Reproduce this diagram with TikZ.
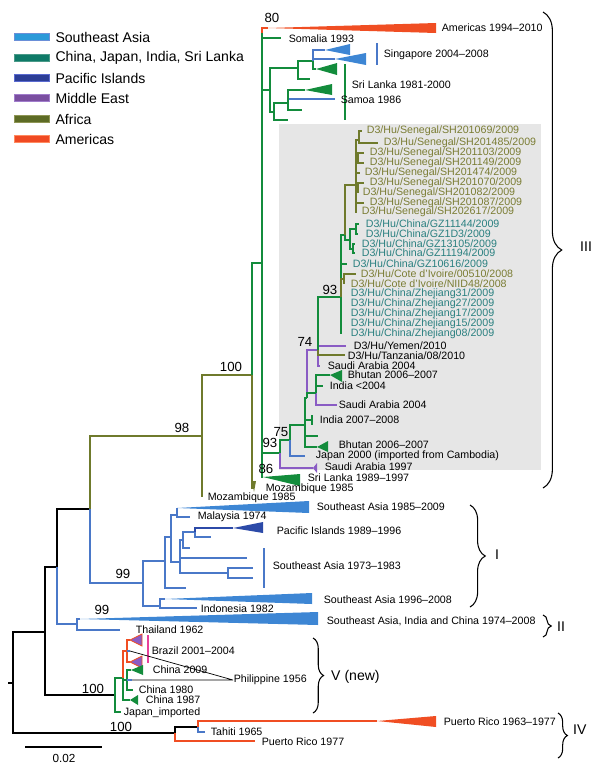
\documentclass[tikz,border=0pt]{standalone}
\usepackage{fontspec}
\setmainfont{Liberation Sans}
\usetikzlibrary{positioning,decorations.pathreplacing}
\definecolor{csea}{HTML}{4A78C8}
\definecolor{cseaw}{HTML}{3D86D4}
\definecolor{cgreen}{HTML}{138C3C}
\definecolor{cteal}{HTML}{2A8080}
\definecolor{cpac}{HTML}{2C4AA8}
\definecolor{cmid}{HTML}{8A5CC4}
\definecolor{cafr}{HTML}{6F7A2C}
\definecolor{cafrt}{HTML}{7B7D34}
\definecolor{camer}{HTML}{F04E23}
\definecolor{cmag}{HTML}{E8409A}
\definecolor{cbox}{HTML}{E6E6E6}
\definecolor{ksea}{HTML}{2B9AD9}
\definecolor{kseab}{HTML}{6A8FD8}
\definecolor{kchn}{HTML}{0F7A68}
\definecolor{kchnb}{HTML}{4A9A88}
\definecolor{kpac}{HTML}{2C3E96}
\definecolor{kpacb}{HTML}{5A6AD0}
\definecolor{kmid}{HTML}{7A4FA0}
\definecolor{kmidb}{HTML}{A07CCB}
\definecolor{kafr}{HTML}{5D6B25}
\definecolor{kafrb}{HTML}{8F9655}
\definecolor{kame}{HTML}{F04A23}
\definecolor{kameb}{HTML}{FF8A60}

\begin{document}
\begin{tikzpicture}[x=0.03cm, y=-0.03cm,
  ln/.style={line width=1pt},
  brBlk/.style={ln, black}, brSea/.style={ln, csea}, brGrn/.style={ln, cgreen},
  brPac/.style={ln, cpac}, brMid/.style={ln, cmid}, brAfr/.style={ln, cafr},
  brAme/.style={ln, camer},
  lab/.style={anchor=west, inner sep=0.5pt, font=\fontsize{9.1}{10}\selectfont},
  labo/.style={lab, text=cafrt}, labt/.style={lab, text=cteal},
  bs/.style={inner sep=0pt, font=\fontsize{11.3}{12}\selectfont},
  leg/.style={anchor=west, inner sep=1pt, font=\fontsize{12}{14}\selectfont},
  sw/.style={line width=0.8pt, minimum width=1.06cm, minimum height=0.19cm, inner sep=0pt},
  cl/.style={anchor=west, inner sep=0pt, font=\fontsize{12}{14}\selectfont},
  clbrace/.style={decorate, decoration={brace, amplitude=#1}, line width=0.9pt},
]
  \useasboundingbox (0,0) rectangle (600,772);
  \fill[cbox] (279,124) rectangle (541,470);

  \node[sw, fill=ksea, draw=kseab] (kSea) at (32,37) {};
  \node[sw, fill=kchn, draw=kchnb] (kChn) at (32,58) {};
  \node[sw, fill=kpac, draw=kpacb] (kPac) at (32,78) {};
  \node[sw, fill=kmid, draw=kmidb] (kMid) at (32,98) {};
  \node[sw, fill=kafr, draw=kafrb] (kAfr) at (32,119) {};
  \node[sw, fill=kame, draw=kameb] (kAme) at (32,139) {};
  \node[leg, right=0.12cm of kSea] (tSea) {Southeast Asia};
  \node[leg, right=0.12cm of kChn] (tChn) {China, Japan, India, Sri Lanka};
  \node[leg, right=0.12cm of kPac] (tPac) {Pacific Islands};
  \node[leg, right=0.12cm of kMid] (tMid) {Middle East};
  \node[leg, right=0.12cm of kAfr] (tAfr) {Africa};
  \node[leg, right=0.12cm of kAme] (tAme) {Americas};

  \coordinate (rs) at (8,683);
  \coordinate (r) at (13,683);
  \coordinate (n1) at (45,632);
  \coordinate (nIV) at (175,733);
  \coordinate (n2) at (57,567);
  \coordinate (nV) at (115,695);
  \coordinate (n3) at (90,509);
  \coordinate (nII) at (77,624);
  \coordinate (n98) at (202,436);
  \coordinate (n99) at (143,583);
  \coordinate (n100) at (252,375);
  \coordinate (moz2) at (202,497);
  \coordinate (nIII) at (262,263);
  \coordinate (moz1) at (254,488);
  \coordinate (n80) at (262,33);
  \coordinate (am) at (268,28);
  \coordinate (som) at (281,38);
  \coordinate (nA) at (270,90);
  \coordinate (nB) at (298,68);
  \coordinate (nC) at (274,112);
  \coordinate (nD) at (313,61);
  \coordinate (sl1) at (310,79);
  \coordinate (sg1) at (325,50);
  \coordinate (sg2) at (335,59);
  \coordinate (sl2) at (316,69);
  \coordinate (nE) at (288,103);
  \coordinate (t1) at (288,120);
  \coordinate (sl3) at (305,90);
  \coordinate (sam) at (335,99);
  \coordinate (t2) at (302,110);
  \coordinate (n93L) at (280,453);
  \coordinate (sl89) at (263,477);
  \coordinate (n75) at (290,440);
  \coordinate (sa97) at (313,468);
  \coordinate (g1) at (305,425);
  \coordinate (jp) at (305,456);
  \coordinate (p0) at (307,398);
  \coordinate (in78) at (312,420);
  \coordinate (t3) at (318,436);
  \coordinate (bh2) at (317,447);
  \coordinate (n74) at (318,350);
  \coordinate (q) at (316,393);
  \coordinate (bh1) at (330,375);
  \coordinate (in04) at (323,386);
  \coordinate (sa04b) at (337,405);
  \coordinate (n93U) at (341,297);
  \coordinate (ye) at (346,346);
  \coordinate (tz) at (345,355);
  \coordinate (sa04a) at (320,366);
  \coordinate (sg) at (345,235);
  \coordinate (sen) at (356,185);
  \coordinate (gz) at (350,240);
  \coordinate (gz6) at (347,264);
  \coordinate (ci) at (344,279);
  \coordinate (ci1) at (356,274);
  \coordinate (ci2) at (344,284);
  \coordinate (zj1) at (341,294);
  \coordinate (zj2) at (341,304);
  \coordinate (zj3) at (341,314);
  \coordinate (zj4) at (341,324);
  \coordinate (zj5) at (341,334);
  \coordinate (gza) at (356,229);
  \coordinate (gzb) at (353,249);
  \coordinate (gz1) at (359,224);
  \coordinate (gz2) at (358,234);
  \coordinate (gz3) at (355,244);
  \coordinate (gz4) at (355,253);
  \coordinate (sa) at (359,140);
  \coordinate (s1) at (362,131);
  \coordinate (s2) at (378,143);
  \coordinate (sb) at (358,158);
  \coordinate (s3) at (364,153);
  \coordinate (s4) at (364,163);
  \coordinate (s5) at (360,173);
  \coordinate (sc) at (358,188);
  \coordinate (s6) at (364,183);
  \coordinate (s7) at (358,193);
  \coordinate (s8) at (364,203);
  \coordinate (s9) at (357,212);
  \coordinate (c165) at (165,561);
  \coordinate (c160) at (160,606);
  \coordinate (c171) at (171,537);
  \coordinate (t4) at (186,588);
  \coordinate (m) at (177,515);
  \coordinate (c180) at (180,562);
  \coordinate (sea85) at (177,508);
  \coordinate (mal) at (190,517);
  \coordinate (c183) at (183,540);
  \coordinate (t5) at (247,558);
  \coordinate (c228) at (228,573);
  \coordinate (c195) at (195,532);
  \coordinate (t6) at (190,548);
  \coordinate (pac) at (233,528);
  \coordinate (t7) at (211,537);
  \coordinate (t8) at (253,568);
  \coordinate (t9) at (253,578);
  \coordinate (sea96) at (165,599);
  \coordinate (ind) at (197,608);
  \coordinate (sea74) at (80,619);
  \coordinate (th) at (120,630);
  \coordinate (v1) at (123,678);
  \coordinate (jpi) at (121,712);
  \coordinate (brz) at (127,651);
  \coordinate (cn) at (127,680);
  \coordinate (cn87) at (130,700);
  \coordinate (bra) at (130,640);
  \coordinate (ph1) at (130,651);
  \coordinate (brb) at (130,662);
  \coordinate (cn09) at (131,670);
  \coordinate (ph2) at (132,680);
  \coordinate (cn80) at (133,690);
  \coordinate (n198) at (198,727);
  \coordinate (pr77) at (255,741);
  \coordinate (pr) at (377,721);
  \coordinate (ta) at (205,732);

  \draw[brBlk] (rs) -- (r) (r) |- (n1) (r) |- (nIV) (n1) |- (n2) (n1) |- (nV) (n2) |- (n3);
  \draw[brBlk] (nIV) |- (n198);
  \draw[brSea] (n2) |- (nII) (n3) |- (n99);
  \draw[brAfr] (n3) |- (n98) (n98) |- (n100) (n98) |- (moz2) (n100) |- (moz1);
  \draw[brGrn] (n100) |- (nIII) (nIII) |- (n80) (n80) |- (som) (nIII) |- (nA) (nIII) |- (n93L) (nIII) |- (sl89);
  \draw[brAme] (n80) |- (am);
  \draw[brGrn] (nA) |- (nB) (nA) |- (nC) (nB) |- (nD) (nB) |- (sl1) (nD) |- (sl2);
  \draw[brSea] (nD) |- (sg1) (nD) |- (sg2) (nE) |- (sam);
  \draw[brGrn] (nC) |- (nE) (nC) |- (t1) (nE) |- (sl3) (nE) |- (t2);
  \draw[brGrn] (n93L) |- (n75) (n75) |- (g1) (g1) |- (p0) (g1) |- (in78) (g1) |- (t3) (g1) |- (bh2);
  \draw[brSea] (n75) |- (jp);
  \draw[brMid] (n93L) |- (sa97) (p0) |- (n74) (q) |- (sa04b) (n74) |- (ye) (n74) |- (sa04a);
  \draw[brGrn] (p0) |- (q) (q) |- (bh1) (q) |- (in04) (n74) |- (n93U);
  \draw[brAfr] (n74) |- (tz);
  \draw[brGrn] (n93U) |- (sg) (sg) |- (gz) (n93U) |- (gz6) (gz) |- (gza) (gz) |- (gzb);
  \draw[brGrn] (gza) |- (gz1) (gza) |- (gz2) (gzb) |- (gz3) (gzb) |- (gz4);
  \draw[brGrn] (n93U) |- (zj1) (n93U) |- (zj5);
  \draw[brAfr] (n93U) |- (ci) (ci) |- (ci1) (ci) |- (ci2);
  \draw[brAfr] (sg) |- (sen) (sen) |- (sa) (sa) |- (s1) (sa) |- (s2) (sen) |- (sb) (sb) |- (s3) (sb) |- (s4);
  \draw[brAfr] (sen) |- (s5) (sen) |- (sc) (sc) |- (s6) (sc) |- (s7) (sen) |- (s8) (sen) |- (s9);
  \draw[brGrn] (in78) ++(0,-5) -- ++(0,10);
  \draw[brSea] (n99) |- (c165) (n99) |- (c160) (c165) |- (c171) (c165) |- (t4) (c171) |- (m) (c171) |- (c180);
  \draw[brSea] (m) |- (sea85) (m) |- (mal) (c180) |- (c183) (c180) |- (t5) (c180) |- (c228) (c183) |- (c195) (c183) |- (t6);
  \draw[brSea] (c195) |- (t7) (c228) |- (t8) (c228) |- (t9) (c160) |- (sea96) (c160) |- (ind) (nII) |- (sea74) (nII) |- (th);
  \draw[brPac] (c195) |- (pac);
  \draw[brGrn] (nV) |- (v1) (nV) |- (jpi) (v1) |- (cn) (v1) |- (cn87) (cn) |- (cn09) (cn) |- (cn80);
  \draw[brAme] (v1) |- (brz) (brz) |- (bra) (brz) |- (brb);
  \draw[brSea] (brz) |- (ph1) (cn) |- (ph2) (n198) |- (ta);
  \draw[brAme] (nIV) |- (pr77) (n198) |- (pr);

  \fill[camer] (am) -- ++(168,-5) -- ++(0,10) -- cycle;
  \fill[cseaw] (sg1) -- ++(25,-6) -- ++(0,11) -- cycle;
  \fill[cseaw] (sg2) -- ++(31,-6) -- ++(0,12) -- cycle;
  \fill[cgreen] (sl2) -- ++(21,-6) -- ++(0,12) -- cycle;
  \fill[cgreen] (sl3) -- ++(27,-6) -- ++(0,11) -- cycle;
  \fill[cgreen] (bh1) -- ++(12,-5) -- ++(0,12) -- cycle;
  \fill[cgreen] (bh2) -- ++(11,-6) -- ++(0,11) -- cycle;
  \fill[cgreen] (sl89) -- ++(37,-3) -- ++(0,12) -- cycle;
  \fill[cmid] (sa97) -- ++(4,-5) -- ++(0,10) -- cycle;
  \fill[cafr] (moz1) ++(-2,-7) -- ++(4,0) -- ++(-2,11) -- cycle;
  \fill[cseaw] (sea85) -- ++(132,-7) -- ++(0,12) -- cycle;
  \fill[cpac] (pac) -- ++(30,-6) -- ++(0,11) -- cycle;
  \fill[cseaw] (sea96) -- ++(147,-6) -- ++(0,11) -- cycle;
  \fill[cseaw] (sea74) -- ++(238,-7) -- ++(0,13) -- cycle;
  \fill[camer] (pr) -- ++(59,-5) -- ++(0,11) -- cycle;
  \filldraw[fill=cmid, draw=camer, line width=0.6pt] (bra) -- ++(12,-6) -- ++(0,12) -- cycle;
  \filldraw[fill=cmid, draw=camer, line width=0.6pt] (brb) -- ++(12,-6) -- ++(0,12) -- cycle;
  \fill[cgreen] (cn09) -- ++(12,-5) -- ++(0,10) -- cycle;
  \fill[cgreen] (cn87) -- ++(8,-5) -- ++(0,10) -- cycle;

  \draw[brSea] (377,43) -- (377,65);
  \draw[brGrn] (345,64) -- (345,120);
  \draw[brSea] (264,548) -- (264,588);
  \draw[ln, cmag] (148,635) -- (148,663);

  \node[bs] (b80) at (272,18) {80};
  \node[bs] (b100a) at (231,367) {100};
  \node[bs] (b98) at (182,428) {98};
  \node[bs] (b93a) at (330,290) {93};
  \node[bs] (b74) at (305,342) {74};
  \node[bs] (b75) at (281,432) {75};
  \node[bs] (b93b) at (270,443) {93};
  \node[bs] (b86) at (266,469) {86};
  \node[bs] (b99a) at (123,574) {99};
  \node[bs] (b99b) at (102,610) {99};
  \node[bs] (b100b) at (93,689) {100};
  \node[bs] (b100c) at (121,727) {100};

  \node[lab] (lAm) at (441,28) {Americas 1994--2010};
  \node[lab] (lSom) at (288,39) {Somalia 1993};
  \node[lab] (lSg) at (383,55) {Singapore 2004--2008};
  \node[lab] (lSl) at (351,85) {Sri Lanka 1981-2000};
  \node[lab] (lSam) at (340,100) {Samoa 1986};
  \node[labo] (l1) at (366,131) {D3/Hu/Senegal/SH201069/2009};
  \node[labo] (l2) at (383,143) {D3/Hu/Senegal/SH201485/2009};
  \node[labo] (l3) at (369,153) {D3/Hu/Senegal/SH201103/2009};
  \node[labo] (l4) at (369,163) {D3/Hu/Senegal/SH201149/2009};
  \node[labo] (l5) at (364,173) {D3/Hu/Senegal/SH201474/2009};
  \node[labo] (l6) at (369,183) {D3/Hu/Senegal/SH201070/2009};
  \node[labo] (l7) at (362,193) {D3/Hu/Senegal/SH201082/2009};
  \node[labo] (l8) at (369,203) {D3/Hu/Senegal/SH201087/2009};
  \node[labo] (l9) at (361,212) {D3/Hu/Senegal/SH202617/2009};
  \node[labt] (l10) at (365,224) {D3/Hu/China/GZ11144/2009};
  \node[labt] (l11) at (365,234) {D3/Hu/China/GZ1D3/2009};
  \node[labt] (l12) at (361,244) {D3/Hu/China/GZ13105/2009};
  \node[labt] (l13) at (361,253) {D3/Hu/China/GZ11194/2009};
  \node[labt] (l14) at (352,264) {D3/Hu/China/GZ10616/2009};
  \node[labo] (l15) at (360,274) {D3/Hu/Cote d'Ivoire/00510/2008};
  \node[labo] (l16) at (350,284) {D3/Hu/Cote d'Ivoire/NIID48/2008};
  \node[labt] (l17) at (350,294) {D3/Hu/China/Zhejiang31/2009};
  \node[labt] (l18) at (350,304) {D3/Hu/China/Zhejiang27/2009};
  \node[labt] (l19) at (350,314) {D3/Hu/China/Zhejiang17/2009};
  \node[labt] (l20) at (350,324) {D3/Hu/China/Zhejiang15/2009};
  \node[labt] (l21) at (350,334) {D3/Hu/China/Zhejiang08/2009};
  \node[lab] (l22) at (353,346) {D3/Hu/Yemen/2010};
  \node[lab] (l23) at (347,356) {D3/Hu/Tanzania/08/2010};
  \node[lab] (l24) at (327,366) {Saudi Arabia 2004};
  \node[lab] (l25) at (347,375) {Bhutan 2006--2007};
  \node[lab] (l26) at (329,386) {India <2004};
  \node[lab] (l27) at (338,405) {Saudi Arabia 2004};
  \node[lab] (l28) at (319,420) {India 2007--2008};
  \node[lab] (l29) at (338,445) {Bhutan 2006--2007};
  \node[lab] (l30) at (315,456) {Japan 2000 (imported from Cambodia)};
  \node[lab] (l31) at (324,467) {Saudi Arabia 1997};
  \node[lab] (l32) at (307,478) {Sri Lanka 1989--1997};
  \node[lab] (l33) at (265,489) {Mozambique 1985};
  \node[lab] (l34) at (207,498) {Mozambique 1985};
  \node[lab] (l35) at (316,507) {Southeast Asia 1985--2009};
  \node[lab] (l36) at (197,517) {Malaysia 1974};
  \node[lab] (l37) at (276,531) {Pacific Islands 1989--1996};
  \node[lab] (l38) at (272,566) {Southeast Asia 1973--1983};
  \node[lab] (l39) at (323,600) {Southeast Asia 1996--2008};
  \node[lab] (l40) at (200,609) {Indonesia 1982};
  \node[lab] (l41) at (326,621) {Southeast Asia, India and China 1974--2008};
  \node[lab] (l42) at (135,630) {Thailand 1962};
  \node[lab] (l43) at (151,651) {Brazil 2001--2004};
  \node[lab] (l44) at (152,670) {China 2009};
  \node[lab] (phl) at (233,680) {Philippine 1956};
  \node[lab] (l45) at (138,690) {China 1980};
  \node[lab] (l46) at (145,700) {China 1987};
  \node[lab] (l47) at (123,713) {Japan\_imported};
  \node[lab] (l48) at (443,722) {Puerto Rico 1963--1977};
  \node[lab] (l49) at (210,732) {Tahiti 1965};
  \node[lab] (l50) at (261,742) {Puerto Rico 1977};

  \draw[black, line width=0.6pt] (ph1) -- (phl.west) (ph2) -- (phl.west);

  \draw[clbrace=16pt] (543,12) -- (543,488);
  \draw[clbrace=13pt] (470,505) -- (470,607);
  \draw[clbrace=7pt] (543,615) -- (543,637);
  \draw[clbrace=9pt] (313,638) -- (313,713);
  \draw[clbrace=8pt] (558,713) -- (558,758);
  \node[cl] (cIII) at (580,247) {III};
  \node[cl] (cI) at (495,555) {I};
  \node[cl] (cII) at (557,627) {II};
  \node[cl] (cV) at (331,677) {V (new)};
  \node[cl] (cIV) at (573,730) {IV};

  \coordinate (sb0) at (25,747);
  \coordinate (sb1) at (102,747);
  \draw[brBlk] (sb0) -- (sb1);
  \node[font=\fontsize{10}{12}\selectfont] (sbl) at (64,758) {0.02};
\end{tikzpicture}
\end{document}
